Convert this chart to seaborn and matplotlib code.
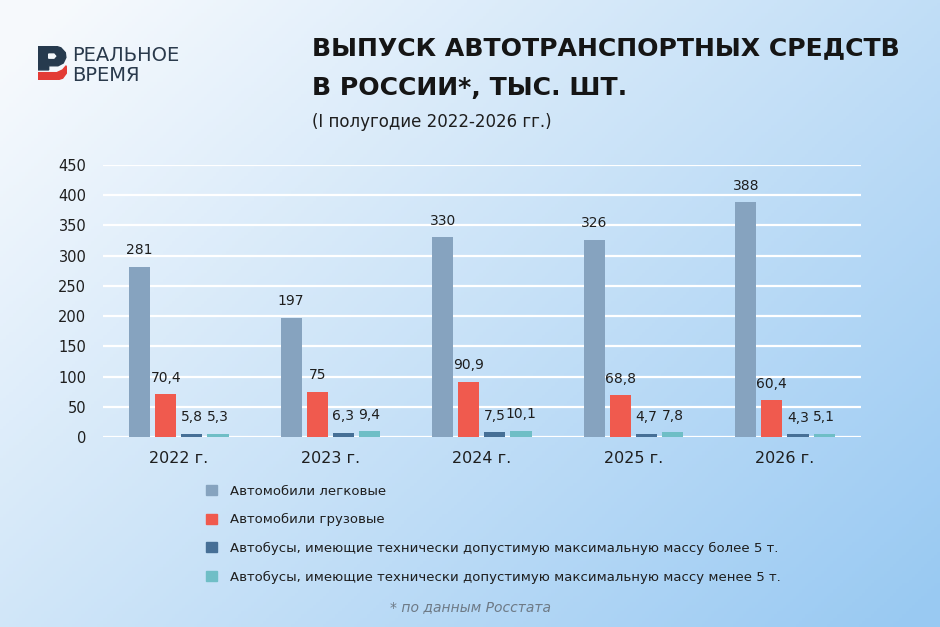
import seaborn as sns
import pandas as pd
import matplotlib.pyplot as plt
import matplotlib
import numpy as np
from matplotlib.patches import Polygon, Patch

years = ['2022 г.', '2023 г.', '2024 г.', '2025 г.', '2026 г.']
series = ['Автомобили легковые',
          'Автомобили грузовые',
          'Автобусы, имеющие технически допустимую максимальную массу более 5 т.',
          'Автобусы, имеющие технически допустимую максимальную массу менее 5 т.']
cars = [281, 197, 330, 326, 388]
trucks = [70.4, 75, 90.9, 68.8, 60.4]
buses_big = [5.8, 6.3, 7.5, 4.7, 4.3]
buses_small = [5.3, 9.4, 10.1, 7.8, 5.1]
colors = ["#86A3BF", "#F05A4E", "#466F96", "#6FBEC6"]
yticks = [0, 50, 100, 150, 200, 250, 300, 350, 400, 450]

sns.set_style('white')
plt.rcParams['font.family'] = ['DejaVu Sans']
text_col = '#1E1E1E'

data = pd.DataFrame({
    'year': years * 4,
    'type': [s for s in series for _ in years],
    'value': cars + trucks + buses_big + buses_small,
})

fig = plt.figure(figsize=(9.4, 6.27), dpi=100)

# background gradient
bg = fig.add_axes([0, 0, 1, 1], zorder=-10)
xx, yy = np.meshgrid(np.linspace(0, 1, 300), np.linspace(0, 1, 200))
t = np.clip(0.62 * xx + 0.45 * yy - 0.05, 0, 1)
c0 = np.array([0.965, 0.978, 0.992])
c1 = np.array([0.60, 0.79, 0.95])
img = c0[None, None, :] * (1 - t[..., None]) + c1[None, None, :] * t[..., None]
bg.imshow(img, aspect='auto', extent=[0, 1, 0, 1], origin='upper')
bg.set_axis_off()

ax = fig.add_axes([0.1096, 0.303, 0.806, 0.434])
ax.patch.set_alpha(0)
sns.barplot(data=data, x='year', y='value', hue='type', palette=colors,
            width=0.69, gap=0.19, legend=False, ax=ax, saturation=1, linewidth=0)

for cont, vals in zip(ax.containers, [cars, trucks, buses_big, buses_small]):
    labels = [f"{v:g}".replace('.', ',') for v in vals]
    ax.bar_label(cont, labels=labels, padding=7, fontsize=10, color=text_col)

ax.set_ylim(0, 450)
ax.set_xlim(-0.5, 4.5)
ax.set_yticks(yticks)
ax.yaxis.grid(True, color='white', linewidth=1.6)
ax.set_axisbelow(True)
for s in ax.spines.values():
    s.set_visible(False)
ax.set_xlabel('')
ax.set_ylabel('')
ax.tick_params(axis='y', length=0, pad=12, labelsize=10.5, labelcolor=text_col)
ax.tick_params(axis='x', length=0, pad=10, labelsize=11.5, labelcolor=text_col)

# legend
handles = [Patch(color=c) for c in colors]
fig.legend(handles, series, loc='upper left', bbox_to_anchor=(0.207, 0.246),
           frameon=False, handlelength=0.8, handleheight=0.8, handletextpad=1.0,
           labelspacing=1.18, fontsize=9.5, labelcolor=text_col)

# title block
fig.text(0.332, 0.923, 'ВЫПУСК АВТОТРАНСПОРТНЫХ СРЕДСТВ', fontsize=18.1,
         fontweight='bold', color='#151515', va='center')
fig.text(0.332, 0.859, 'В РОССИИ*, ТЫС. ШТ.', fontsize=18.1,
         fontweight='bold', color='#151515', va='center')
fig.text(0.332, 0.806, '(I полугодие 2022-2026 гг.)', fontsize=12,
         color=text_col, va='center')

# logo
logo = fig.add_axes([0.040, 0.872, 0.031, 0.055])
logo.set_xlim(0, 1)
logo.set_ylim(0, 1)
logo.set_axis_off()
logo.add_patch(Polygon([[0, 0.30], [0, 1], [0.58, 1], [0.80, 0.94], [0.95, 0.80],
                        [0.97, 0.66], [0.88, 0.50], [0.70, 0.42], [0.38, 0.42],
                        [0.38, 0.30]], closed=True, color='#263A4E'))
logo.add_patch(Polygon([[0.38, 0.64], [0.38, 0.76], [0.56, 0.76], [0.62, 0.70],
                        [0.56, 0.64]], closed=True, color='#F4F8FC'))
logo.add_patch(Polygon([[0, 0], [0, 0.22], [0.66, 0.22], [0.86, 0.30], [0.98, 0.42],
                        [1.0, 0.22], [0.86, 0.06], [0.64, 0]], closed=True, color='#E33B35'))
fig.text(0.077, 0.912, 'РЕАЛЬНОЕ', fontsize=14, color='#2A3A4C', va='center')
fig.text(0.077, 0.879, 'ВРЕМЯ', fontsize=14, color='#2A3A4C', va='center')

fig.text(0.5, 0.032, '* по данным Росстата', fontsize=10, style='italic',
         color='#6E7A86', ha='center', va='center',
         family=['Liberation Sans Narrow', 'DejaVu Sans'])

fig.savefig('out.png', dpi=100)
